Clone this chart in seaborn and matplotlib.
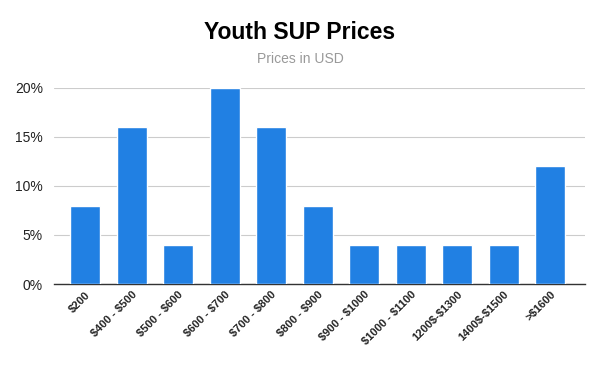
import pandas as pd
import matplotlib.pyplot as plt
import seaborn as sns
from matplotlib.ticker import PercentFormatter

price_ranges = ['$200', '$400 - $500', '$500 - $600', '$600 - $700', '$700 - $800',
                '$800 - $900', '$900 - $1000', '$1000 - $1100', '1200$-$1300',
                '1400$-$1500', '>$1600']
share = [0.08, 0.16, 0.04, 0.20, 0.16, 0.08, 0.04, 0.04, 0.04, 0.04, 0.12]

def main():
    sns.set_style('white')
    plt.rcParams['font.family'] = ['Liberation Sans', 'DejaVu Sans']
    plt.rcParams['text.parse_math'] = False

    df = pd.DataFrame({'range': price_ranges, 'share': share})

    fig = plt.figure(figsize=(6, 3.71), dpi=100)
    ax = fig.add_axes([0.09, 0.2345, 0.885, 0.5285])
    sns.barplot(x='range', y='share', data=df, color='#2180e3', width=0.645,
                saturation=1, ax=ax, zorder=3)

    ax.set_ylim(0, 0.20)
    ax.set_yticks([0, 0.05, 0.10, 0.15, 0.20])
    ax.yaxis.set_major_formatter(PercentFormatter(1.0, decimals=0))
    ax.grid(axis='y', color='#cccccc', linewidth=0.8, zorder=0)
    ax.set_xlim(-0.67, len(price_ranges) - 0.25)
    for s in ['top', 'right', 'left']:
        ax.spines[s].set_visible(False)
    ax.spines['bottom'].set_color('#333333')
    ax.spines['bottom'].set_linewidth(1)
    ax.set_xlabel('')
    ax.set_ylabel('')
    ax.tick_params(axis='y', length=0, labelsize=10, colors='#222222', pad=8)
    ax.tick_params(axis='x', length=0, pad=4)
    ax.set_xticks(range(len(price_ranges)))
    ax.set_xticklabels(price_ranges, rotation=45, ha='right', rotation_mode='anchor',
                       fontsize=8, fontweight='bold', color='#222222')

    fig.text(0.5, 0.913, 'Youth SUP Prices', ha='center', va='center',
             fontsize=16.5, fontweight='bold', color='black')
    fig.text(0.5, 0.84, 'Prices in USD', ha='center', va='center',
             fontsize=10, color='#999999')

    fig.savefig('out.png', dpi=100)

if __name__ == "__main__":
    main()
